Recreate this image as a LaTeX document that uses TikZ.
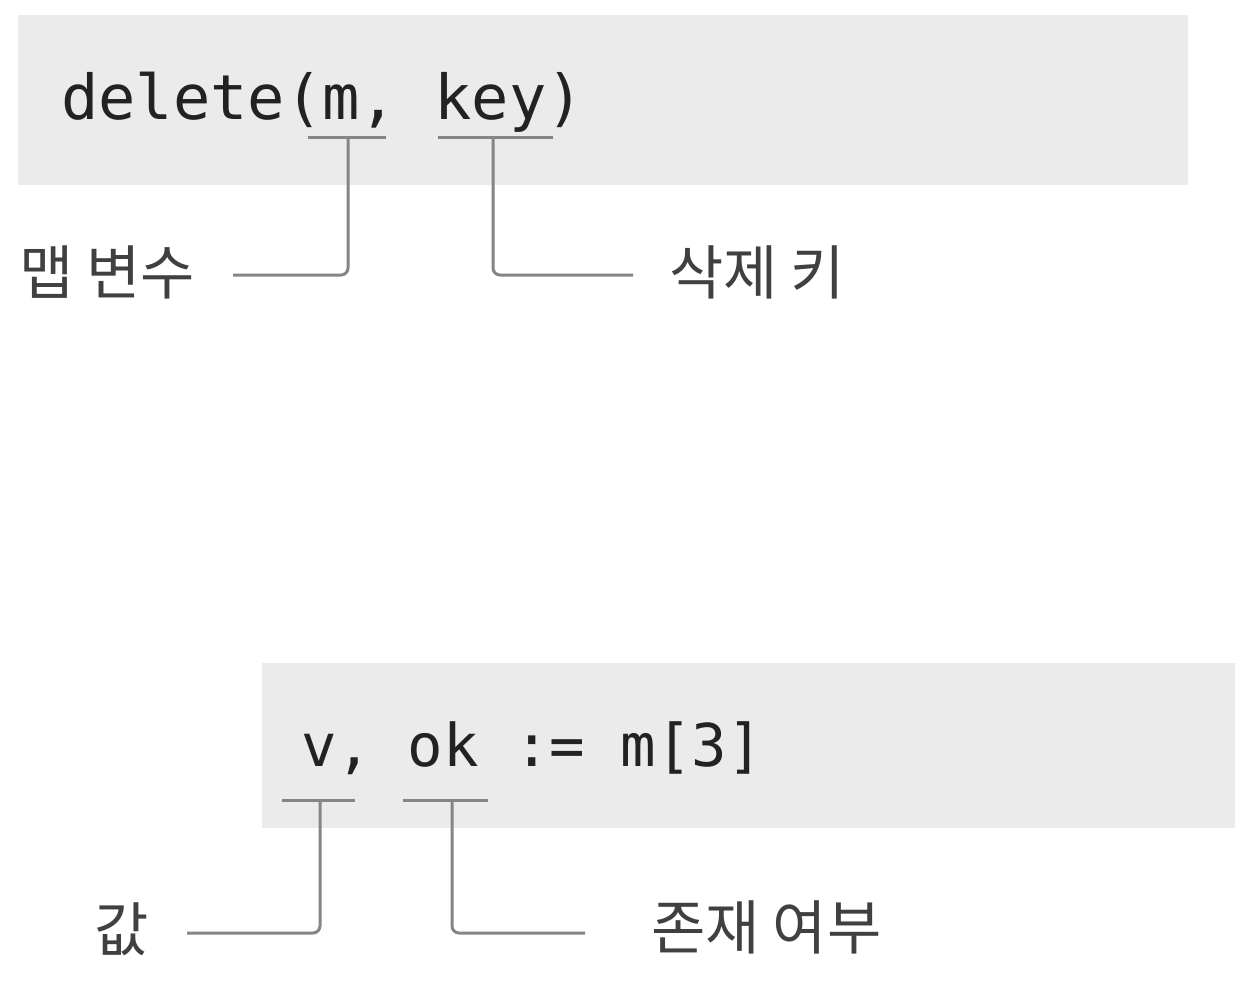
\documentclass[tikz,border=0pt]{standalone}
\usepackage{fontspec}
\setmonofont{DejaVu Sans Mono}
\newfontfamily\kr{Noto Sans CJK KR}
\begin{document}
\begin{tikzpicture}[x=1pt,y=-1pt,
  codebox/.style={fill=boxgray,draw=none},
  code/.style={inner sep=0pt,anchor=base west,text=codetext},
  lbl/.style={inner sep=0pt,font=\kr\fontsize{59}{66}\selectfont,text=lbltext},
  lead/.style={draw=linegray,line width=3pt,rounded corners=7pt}]
\definecolor{boxgray}{HTML}{EBEBEB}
\definecolor{codetext}{HTML}{222222}
\definecolor{lbltext}{HTML}{404040}
\definecolor{linegray}{HTML}{858585}
\useasboundingbox (0,0) rectangle (1250,1004);
\fill[white] (0,0) rectangle (1250,1004);
% top
\path[codebox] (18,15) rectangle (1188,185);
\node[code,font=\ttfamily\fontsize{62}{72}\selectfont] (c1) at (61,119) {delete(m, key)};
\draw[lead] (308,137) -- (386,137);
\draw[lead] (438,137) -- (553,137);
\coordinate (u1) at (348,137);
\coordinate (u2) at (493,137);
\node[lbl,anchor=west] (l1) at (19,272) {맵 변수};
\node[lbl,anchor=west] (l2) at (669,272) {삭제 키};
\draw[lead] (u1) |- (233,275);
\draw[lead] (u2) |- (633,275);
% bottom
\path[codebox] (262,663) rectangle (1235,828);
\node[code,font=\ttfamily\fontsize{59}{70}\selectfont] (c2) at (301,766) {v, ok := m[3]};
\draw[lead] (282,800) -- (355,800);
\draw[lead] (403,800) -- (488,800);
\coordinate (u3) at (320,800);
\coordinate (u4) at (452,800);
\node[lbl,anchor=west] (l3) at (94,929) {값};
\node[lbl,anchor=west] (l4) at (651,927) {존재 여부};
\draw[lead] (u3) |- (187,933);
\draw[lead] (u4) |- (585,933);
\end{tikzpicture}
\end{document}
